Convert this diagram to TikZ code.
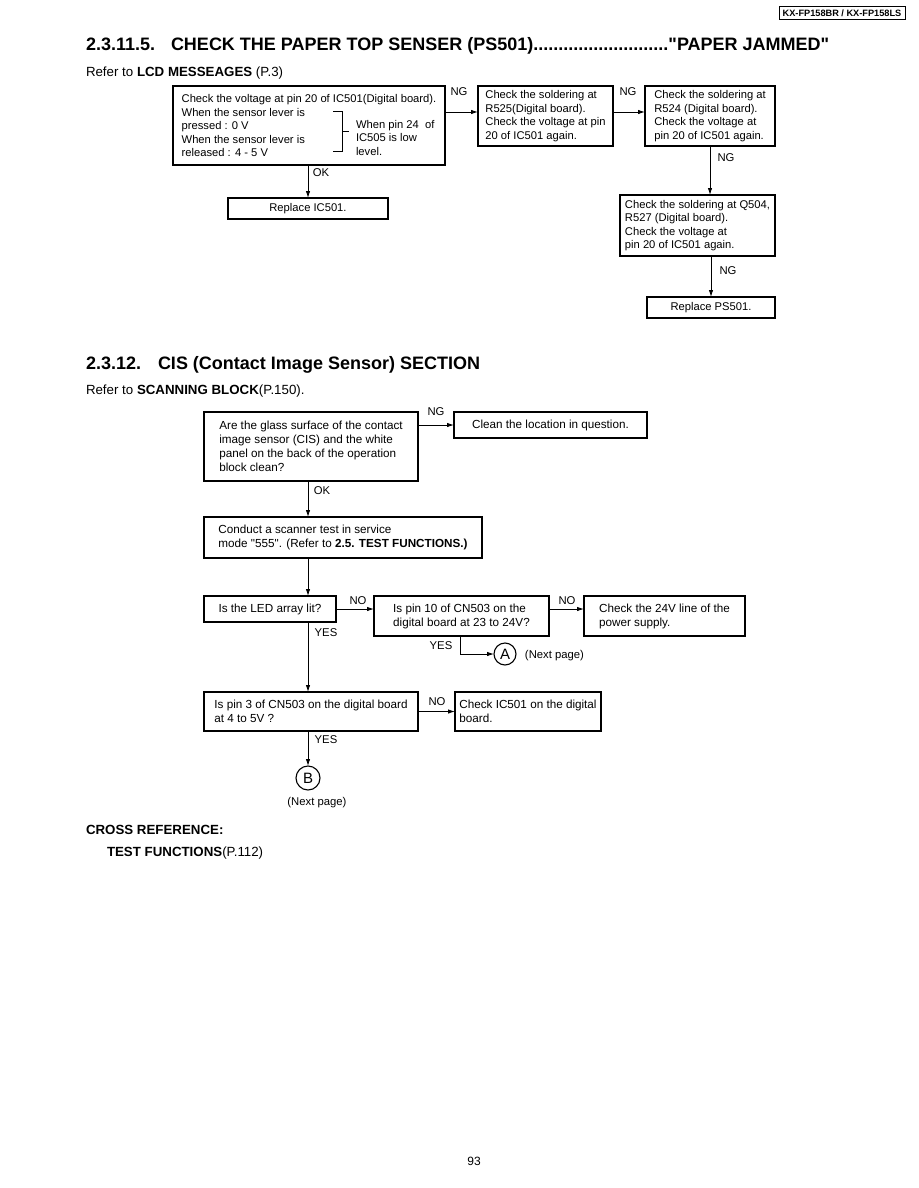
\documentclass[tikz,border=0pt]{standalone}
\usepackage{fontspec}
\setmainfont{Liberation Sans}
\usetikzlibrary{arrows.meta,calc}
\newcommand{\dq}{\XeTeXglyph\XeTeXcharglyph"22\relax}
\begin{document}
\begin{tikzpicture}[x=1pt,y=-1pt,
  every node/.style={inner sep=0pt,outer sep=0pt},
  txt/.style={font=\fontsize{11.2}{13.5}\selectfont},
  txtb/.style={font=\fontsize{11.7}{14}\selectfont},
  box/.style={draw,line width=1.1pt,txt,align=left},
  cbox/.style={draw,line width=1.1pt,txt,align=center},
  boxb/.style={draw,line width=1.1pt,txtb,align=left},
  cboxb/.style={draw,line width=1.1pt,txtb,align=center},
  arr/.style={line width=0.9pt,-{Latex[length=7pt,width=4.5pt]}},
  lbl/.style={font=\fontsize{11.3}{13}\selectfont},
  circ/.style={draw,circle,line width=1.1pt,font=\fontsize{15}{15}\selectfont},
  ttl/.style={font=\bfseries\fontsize{18}{20}\selectfont,anchor=base west},
  reftxt/.style={font=\fontsize{13.3}{15}\selectfont,anchor=base west}
]
\useasboundingbox (0,0) rectangle (918,1188);

% header
\node[draw,line width=1pt,minimum width=126pt,minimum height=13pt,font=\bfseries\fontsize{9.2}{10}\selectfont] (hdr) at (842,13.5) {KX-FP158BR / KX-FP158LS};

% section 1
\node[ttl] (t1n) at (86,51) {2.3.11.5.};
\node[ttl] (t1) at (171,51) {CHECK THE PAPER TOP SENSER (PS501)...........................\dq PAPER JAMMED\dq};
\node[reftxt] (r1) at (86,77) {Refer to \textbf{LCD MESSEAGES} (P.3)};

\node[box,minimum width=272pt,minimum height=79pt] (b1) at (309,125.5) {Check the voltage at pin 20 of IC501(Digital board).\\When the sensor lever is\\pressed : 0 V\\When the sensor lever is\\released : 4 - 5 V};
\node[txt,align=left,anchor=north west] (b1r) at (356,120) {When pin 24\ \ of\\IC505 is low\\level.};
\draw[line width=0.9pt] (333,111) -- (342,111) -- (342,151) -- (333,151);
\draw[line width=0.9pt] (342,131) -- (349,131);

\node[box,minimum width=135pt,minimum height=60pt] (b2) at (545.5,116) {Check the soldering at\\R525(Digital board).\\Check the voltage at pin\\20 of IC501 again.};
\node[box,minimum width=130pt,minimum height=60pt] (b3) at (710,116) {Check the soldering at\\R524 (Digital board).\\Check the voltage at\\pin 20 of IC501 again.};
\node[box,minimum width=155pt,minimum height=61pt] (b4) at (697.5,225.5) {Check the soldering at Q504,\\R527 (Digital board).\\Check the voltage at\\pin 20 of IC501 again.};
\node[cbox,minimum width=128pt,minimum height=21pt] (b5) at (711,307.5) {Replace PS501.};
\node[cbox,minimum width=160pt,minimum height=21pt] (b6) at (308,208.5) {Replace IC501.};

\coordinate (a12) at ([yshift=4pt]b2.west);
\coordinate (a23) at ([yshift=4pt]b3.west);
\draw[arr] (a12 -| b1.east) -- (a12);
\draw[arr] (a23 -| b2.east) -- (a23);
\draw[arr] (b3.south) -- (b3.south |- b4.north);
\draw[arr] (b5.north |- b4.south) -- (b5.north);
\draw[arr] (b6.north |- b1.south) -- (b6.north);

\node[lbl] (l1) at (459,92) {NG};
\node[lbl] (l2) at (628,92) {NG};
\node[lbl] (l3) at (726,158) {NG};
\node[lbl] (l4) at (728,271) {NG};
\node[lbl] (l5) at (321,173) {OK};

% section 2
\node[ttl] (t2n) at (86,369) {2.3.12.};
\node[ttl] (t2) at (158,369) {CIS (Contact Image Sensor) SECTION};
\node[reftxt] (r2) at (86,394) {Refer to \textbf{SCANNING BLOCK}(P.150).};

\node[boxb,minimum width=214pt,minimum height=69pt] (c1) at (311,446.5) {Are the glass surface of the contact\\image sensor (CIS) and the white\\panel on the back of the operation\\block clean?};
\node[cboxb,minimum width=193pt,minimum height=26pt] (c2) at (550.5,425) {Clean the location in question.};
\node[boxb,minimum width=278pt,minimum height=41pt] (c3) at (343,537.5) {Conduct a scanner test in service\\mode \dq 555\dq . (Refer to \textbf{2.5. TEST FUNCTIONS.)}};
\node[cboxb,minimum width=132pt,minimum height=26pt] (c4) at (270,609) {Is the LED array lit?};
\node[boxb,minimum width=175pt,minimum height=40pt] (c5) at (461.5,616) {Is pin 10 of CN503 on the\\digital board at 23 to 24V?};
\node[boxb,minimum width=161pt,minimum height=40pt] (c6) at (664.5,616) {Check the 24V line of the\\power supply.};
\node[boxb,minimum width=214pt,minimum height=39pt] (c7) at (311,711.5) {Is pin 3 of CN503 on the digital board\\at 4 to 5V ?};
\node[boxb,minimum width=146pt,minimum height=39pt] (c8) at (528,711.5) {Check IC501 on the digital\\board.};
\node[circ,minimum size=22pt] (A) at (505,654) {A};
\node[circ,minimum size=24pt] (B) at (308,778) {B};

\coordinate (tr) at (308,0);
\coordinate (ya) at (460,0);
\draw[arr] (c1.south -| tr) -- (c3.north -| tr);
\draw[arr] (c3.south -| tr) -- (c4.north -| tr);
\draw[arr] (c4.south -| tr) -- (c7.north -| tr);
\draw[arr] (c7.south -| tr) -- (B.north);
\draw[arr] (c1.east |- c2.west) -- (c2.west);
\draw[arr] (c4.east) -- (c4.east -| c5.west);
\draw[arr] (c5.east |- c4.east) -- (c6.west |- c4.east);
\draw[arr] (c5.south -| ya) |- (A.west);
\draw[arr] (c7.east) -- (c8.west);

\node[lbl] (m1) at (436,412) {NG};
\node[lbl] (m2) at (322,491) {OK};
\node[lbl] (m3) at (358,601) {NO};
\node[lbl] (m4) at (567,601) {NO};
\node[lbl] (m5) at (326,633) {YES};
\node[lbl] (m6) at (441,646) {YES};
\node[lbl] (m7) at (554.5,656) {(Next page)};
\node[lbl] (m8) at (437,702) {NO};
\node[lbl] (m9) at (326,740) {YES};
\node[lbl] (m10) at (317,803) {(Next page)};

\node[reftxt,font=\bfseries\fontsize{13.3}{15}\selectfont] (cr) at (86,834) {CROSS REFERENCE:};
\node[reftxt] (cr2) at (107,856) {\textbf{TEST FUNCTIONS}(P.112)};

\node[font=\fontsize{12}{14}\selectfont] (pg) at (474,1161) {93};
\end{tikzpicture}
\end{document}
